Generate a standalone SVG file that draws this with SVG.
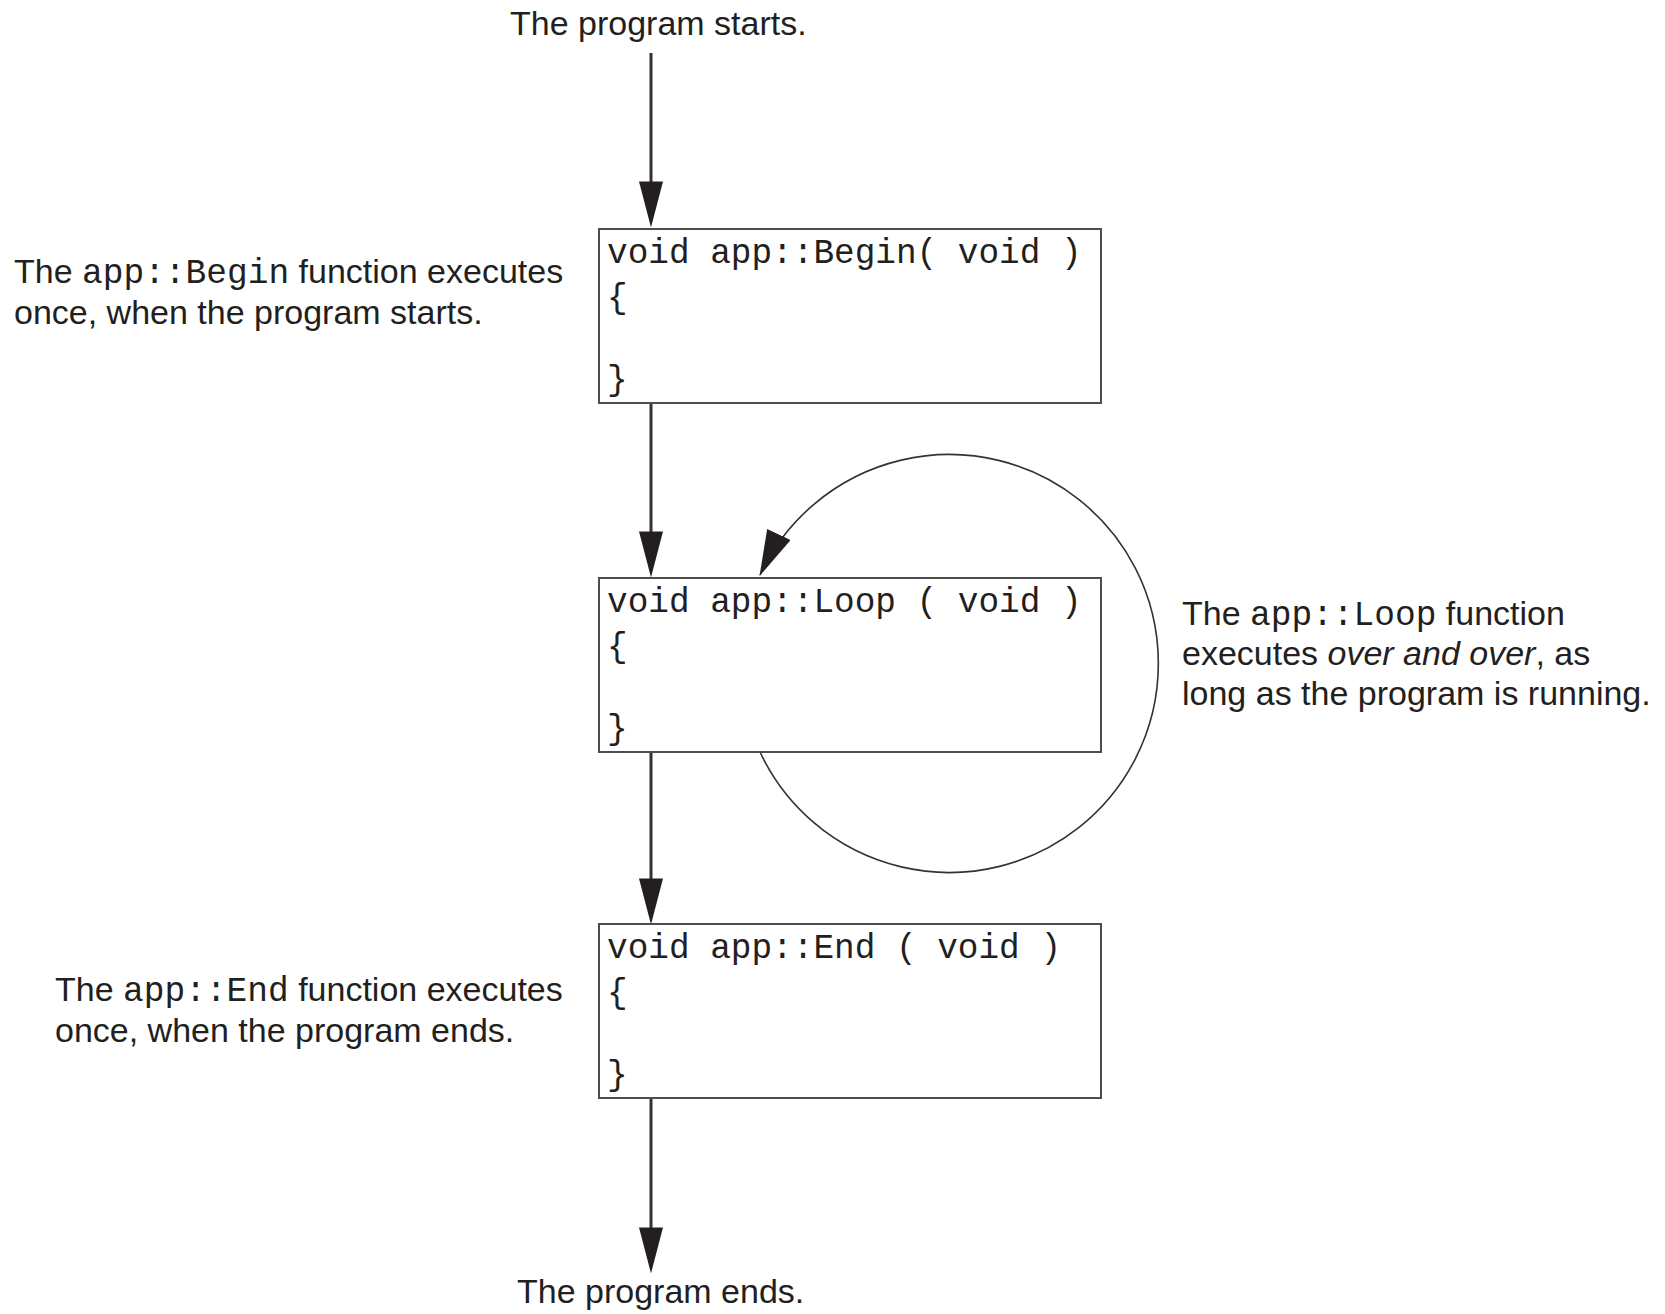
<svg xmlns="http://www.w3.org/2000/svg" width="1665" height="1314" viewBox="0 0 1665 1314">
  <style>
    .lbl { font-family: "Liberation Sans", Arial, Helvetica, sans-serif; font-size: 34px; fill: #231f20; }
    .code { font-family: "Liberation Mono", "Courier New", monospace; font-size: 34.5px; fill: #231f20; }
    .boxcode { font-family: "Liberation Mono", "Courier New", monospace; font-size: 34.4px; fill: #231f20; }
    .box { fill: #ffffff; stroke: #4d4d4d; stroke-width: 2; }
    .flow { fill: none; stroke: #333333; stroke-width: 3; }
    .loop { fill: none; stroke: #333333; stroke-width: 1.6; }
  </style>
  <defs>
    <marker id="arrow" markerUnits="userSpaceOnUse" markerWidth="46" markerHeight="24" viewBox="0 0 44 23" refX="34" refY="11.5" orient="auto">
      <path d="M0,0 L44,11.5 L0,23 z" fill="#231f20"/>
    </marker>
    <marker id="arrowLoop" markerUnits="userSpaceOnUse" markerWidth="46" markerHeight="26" viewBox="0 0 44 25" refX="43" refY="12.5" orient="auto">
      <path d="M0,0 L44,12.5 L0,25 z" fill="#231f20"/>
    </marker>
  </defs>

  <rect width="1665" height="1314" fill="#ffffff"/>

  <g id="connectors">
    <line class="flow" x1="651" y1="53" x2="651" y2="217" marker-end="url(#arrow)"/>
    <line class="flow" x1="651" y1="403" x2="651" y2="567" marker-end="url(#arrow)"/>
    <line class="flow" x1="651" y1="752" x2="651" y2="914" marker-end="url(#arrow)"/>
    <line class="flow" x1="651" y1="1098" x2="651" y2="1263" marker-end="url(#arrow)"/>
    <path class="loop" d="M 760 752 A 209 209 0 1 0 760 575" marker-end="url(#arrowLoop)"/>
  </g>

  <g id="start">
    <text class="lbl" x="510" y="35">The program starts.</text>
  </g>

  <g id="begin-box">
    <rect class="box" x="599" y="229" width="502" height="174"/>
    <text class="boxcode" x="607" y="263">void app::Begin( void )</text>
    <text class="boxcode" x="607" y="308">{</text>
    <text class="boxcode" x="607" y="390">}</text>
  </g>

  <g id="begin-label">
    <text class="lbl" x="14" y="283">The <tspan class="code">app::Begin</tspan> function executes</text>
    <text class="lbl" x="14" y="324">once, when the program starts.</text>
  </g>

  <g id="loop-box">
    <rect class="box" x="599" y="578" width="502" height="174"/>
    <text class="boxcode" x="607" y="612">void app::Loop ( void )</text>
    <text class="boxcode" x="607" y="657">{</text>
    <text class="boxcode" x="607" y="739">}</text>
  </g>

  <g id="loop-label">
    <text class="lbl" x="1182" y="625">The <tspan class="code">app::Loop</tspan> function</text>
    <text class="lbl" x="1182" y="665">executes <tspan font-style="italic">over and over</tspan>, as</text>
    <text class="lbl" x="1182" y="705">long as the program is running.</text>
  </g>

  <g id="end-box">
    <rect class="box" x="599" y="924" width="502" height="174"/>
    <text class="boxcode" x="607" y="958">void app::End ( void )</text>
    <text class="boxcode" x="607" y="1003">{</text>
    <text class="boxcode" x="607" y="1085">}</text>
  </g>

  <g id="end-label">
    <text class="lbl" x="55" y="1001">The <tspan class="code">app::End</tspan> function executes</text>
    <text class="lbl" x="55" y="1042">once, when the program ends.</text>
  </g>

  <g id="finish">
    <text class="lbl" x="517" y="1303">The program ends.</text>
  </g>
</svg>
